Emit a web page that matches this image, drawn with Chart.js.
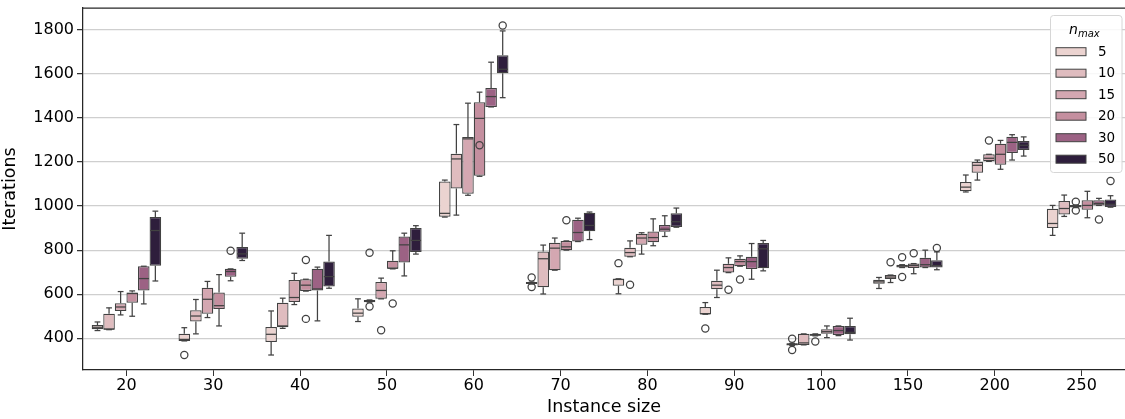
<!DOCTYPE html>
<html>
<head>
<meta charset="utf-8">
<script src="https://cdn.jsdelivr.net/npm/chart.js@4.4.0/dist/chart.umd.min.js"></script>
<style>
  html, body { margin: 0; padding: 0; background: #fff; }
</style>
</head>
<body>
<canvas id="chart" width="1125" height="419"></canvas>
<script>
/* Boxplot: Iterations per instance size, grouped by n_max */

const sizes = ['20', '30', '40', '50', '60', '70', '80', '90', '100', '150', '200', '250'];
const nmax = ['5', '10', '15', '20', '30', '50'];
const colors = ['#ebd3d0', '#dfbcbf', '#d4a7b1', '#c48f9f', '#9c6284', '#2e1e3c'];

// one row per n_max, one column per instance size
const q1 = [
  [441, 388, 383, 498, 952, 646, 638, 509, 367, 647, 1067, 900],
  [439, 476, 450, 564, 1080, 632, 770, 623, 370, 669, 1151, 962],
  [524, 511, 565, 579, 1056, 709, 824, 698, 411, 721, 1203, 993],
  [561, 533, 614, 715, 1138, 800, 836, 727, 420, 719, 1188, 983],
  [617, 679, 617, 744, 1450, 839, 883, 714, 415, 721, 1241, 1003],
  [729, 761, 635, 791, 1603, 886, 905, 718, 418, 721, 1255, 996]
];
const med = [
  [450, 395, 418, 514, 967, 650, 667, 511, 373, 656, 1086, 921],
  [442, 501, 456, 570, 1214, 761, 789, 641, 379, 678, 1185, 989],
  [542, 577, 585, 617, 1305, 809, 855, 721, 415, 728, 1217, 999],
  [603, 548, 641, 718, 1398, 815, 857, 748, 430, 730, 1235, 1003],
  [671, 703, 624, 824, 1497, 880, 895, 748, 435, 734, 1289, 1012],
  [889, 783, 680, 844, 1621, 912, 929, 806, 427, 730, 1276, 1008]
];
const q3 = [
  [460, 420, 451, 535, 1112, 655, 670, 542, 377, 666, 1109, 988],
  [511, 527, 561, 574, 1238, 794, 811, 661, 420, 687, 1200, 1023],
  [559, 629, 665, 655, 1314, 833, 874, 738, 420, 734, 1235, 1005],
  [608, 608, 668, 752, 1471, 842, 885, 761, 441, 739, 1283, 1027],
  [727, 715, 715, 862, 1536, 938, 914, 770, 456, 766, 1315, 1026],
  [950, 814, 748, 900, 1685, 970, 967, 832, 456, 754, 1295, 1030]
];
const lo = [
  [435, 388, 324, 476, 950, 646, 602, 509, 367, 626, 1064, 867],
  [439, 420, 445, 564, 959, 601, 770, 585, 370, 653, 1118, 953],
  [506, 494, 553, 579, 1049, 709, 782, 698, 411, 721, 1203, 993],
  [500, 456, 614, 715, 1135, 800, 820, 727, 403, 693, 1167, 947],
  [556, 661, 479, 683, 1450, 839, 862, 668, 412, 721, 1209, 1003],
  [660, 753, 627, 782, 1492, 848, 904, 706, 392, 711, 1227, 995]
];
const hi = [
  [474, 448, 524, 579, 1118, 655, 670, 562, 377, 676, 1141, 1003],
  [538, 576, 582, 574, 1370, 823, 842, 709, 420, 687, 1209, 1050],
  [612, 658, 695, 673, 1467, 855, 879, 765, 420, 734, 1235, 1005],
  [615, 689, 668, 797, 1517, 842, 942, 774, 456, 739, 1298, 1067],
  [727, 715, 723, 877, 1653, 945, 956, 830, 456, 800, 1324, 1035],
  [977, 877, 867, 911, 1795, 973, 991, 844, 491, 792, 1314, 1047]
];
const fliers = [
  [[], [324], [], [], [], [676, 633], [741], [444], [398, 347], [], [], []],
  [[], [], [], [788, 544], [], [], [643], [], [], [745], [], []],
  [[], [], [], [436], [], [], [], [620], [385], [768, 678], [1298], [1020, 980]],
  [[], [], [755, 488], [558], [1276], [936], [], [667], [], [786], [], []],
  [[], [797], [], [], [], [], [], [], [], [], [], [939]],
  [[], [], [], [], [1820], [], [], [], [], [810], [], [1114]]
];

const FONT = "'DejaVu Sans', 'Liberation Sans', sans-serif";
const LINE = '#424242';

// whiskers, caps, medians and outliers on top of the floating bars
const boxParts = {
  id: 'boxParts',
  afterDatasetsDraw(chart) {
    const ctx = chart.ctx;
    const y = chart.scales.y;
    const py = v => y.getPixelForValue(v);
    const seg = (x1, y1, x2, y2) => {
      ctx.beginPath(); ctx.moveTo(x1, y1); ctx.lineTo(x2, y2); ctx.stroke();
    };
    ctx.save();
    ctx.strokeStyle = LINE;
    ctx.lineWidth = 1.25;
    nmax.forEach((n, i) => {
      const meta = chart.getDatasetMeta(i);
      meta.data.forEach((bar, j) => {
        const x = bar.x;
        const half = bar.width / 2;
        const cap = bar.width / 4;
        seg(x, py(q3[i][j]), x, py(hi[i][j]));
        seg(x, py(q1[i][j]), x, py(lo[i][j]));
        seg(x - cap, py(hi[i][j]), x + cap, py(hi[i][j]));
        seg(x - cap, py(lo[i][j]), x + cap, py(lo[i][j]));
        seg(x - half + 0.6, py(med[i][j]), x + half - 0.6, py(med[i][j]));
        fliers[i][j].forEach(v => {
          ctx.beginPath();
          ctx.arc(x, py(v), 3.6, 0, Math.PI * 2);
          ctx.stroke();
        });
      });
    });
    ctx.restore();
  },
  afterDraw(chart) {
    const ctx = chart.ctx;
    const a = chart.chartArea;
    ctx.save();
    // top spine
    ctx.strokeStyle = '#262626';
    ctx.lineWidth = 1.25;
    ctx.beginPath(); ctx.moveTo(a.left, a.top); ctx.lineTo(a.right, a.top); ctx.stroke();

    // legend
    const lx = 1050.5, ly = 15.5, lw = 71.5, lh = 157;
    ctx.fillStyle = 'rgba(255,255,255,0.85)';
    ctx.strokeStyle = '#d6d6d6';
    ctx.lineWidth = 1;
    ctx.beginPath();
    ctx.roundRect(lx, ly, lw, lh, 3);
    ctx.fill(); ctx.stroke();

    ctx.fillStyle = '#000';
    ctx.textBaseline = 'alphabetic';
    ctx.textAlign = 'left';
    ctx.font = 'italic 14px ' + FONT;
    ctx.fillText('n', 1069, 34);
    ctx.font = 'italic 10px ' + FONT;
    ctx.fillText('max', 1078, 37);

    ctx.font = '13.5px ' + FONT;
    ctx.textBaseline = 'middle';
    nmax.forEach((n, i) => {
      const ry = 51.7 + i * 21.5;
      ctx.fillStyle = colors[i];
      ctx.fillRect(1056, ry - 4, 30, 8);
      ctx.strokeStyle = LINE;
      ctx.lineWidth = 1;
      ctx.strokeRect(1056, ry - 4, 30, 8);
      ctx.fillStyle = '#000';
      ctx.fillText(n, 1098, ry + 0.5);
    });
    ctx.restore();
  }
};

const datasets = nmax.map((n, i) => ({
  label: n,
  data: q1[i].map((v, j) => [v, q3[i][j]]),
  backgroundColor: colors[i],
  borderColor: LINE,
  borderWidth: 1.25,
  borderSkipped: false,
  categoryPercentage: 0.8,
  barPercentage: 1.0
}));

new Chart(document.getElementById('chart'), {
  type: 'bar',
  data: { labels: sizes, datasets },
  plugins: [boxParts],
  options: {
    responsive: false,
    animation: false,
    layout: { padding: { top: 8, right: 0, bottom: 0, left: 0 } },
    plugins: {
      legend: { display: false },
      tooltip: { enabled: false }
    },
    scales: {
      x: {
        offset: true,
        grid: {
          offset: false,
          drawOnChartArea: false,
          drawTicks: true,
          tickLength: 6,
          tickColor: '#333'
        },
        border: { display: true, color: '#262626', width: 1.25 },
        ticks: { color: '#000', font: { family: FONT, size: 16 }, padding: 0, maxRotation: 0 },
        title: {
          display: true, text: 'Instance size', color: '#000',
          font: { family: FONT, size: 17.5 }, padding: { top: 0, bottom: 1 }
        },
        afterFit(scale) {
          scale.height = 49;
          scale.paddingLeft = 0;
          scale.paddingRight = 0;
        }
      },
      y: {
        min: 256,
        max: 1899,
        ticks: {
          stepSize: 200, color: '#000', font: { family: FONT, size: 16 }, padding: 3,
          callback: v => String(v)
        },
        afterBuildTicks(scale) {
          scale.ticks = scale.ticks.filter(t => t.value % 200 === 0);
        },
        grid: { color: '#cfcfcf', lineWidth: 1.25, tickLength: 6, tickColor: '#333' },
        border: { display: true, color: '#262626', width: 1.25 },
        title: {
          display: true, text: 'Iterations', color: '#000',
          font: { family: FONT, size: 17.5 }, padding: { top: 0, bottom: 4 }
        },
        afterFit(scale) {
          scale.width = 83;
          scale.paddingTop = 0;
          scale.paddingBottom = 0;
        }
      }
    }
  }
});
</script>
</body>
</html>
